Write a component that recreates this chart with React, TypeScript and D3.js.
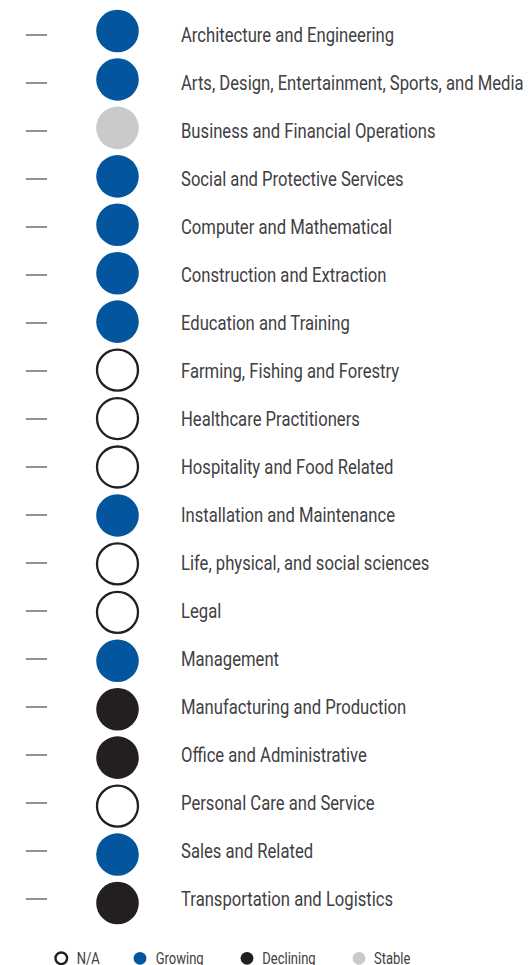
import { useEffect, useRef } from "react";
import * as d3 from "d3";

const categories = [
  "Architecture and Engineering",
  "Arts, Design, Entertainment, Sports, and Media",
  "Business and Financial Operations",
  "Social and Protective Services",
  "Computer and Mathematical",
  "Construction and Extraction",
  "Education and Training",
  "Farming, Fishing and Forestry",
  "Healthcare Practitioners",
  "Hospitality and Food Related",
  "Installation and Maintenance",
  "Life, physical, and social sciences",
  "Legal",
  "Management",
  "Manufacturing and Production",
  "Office and Administrative",
  "Personal Care and Service",
  "Sales and Related",
  "Transportation and Logistics",
];

const statuses = [
  "Growing", "Growing", "Stable", "Growing", "Growing", "Growing", "Growing",
  "N/A", "N/A", "N/A", "Growing", "N/A", "N/A", "Growing",
  "Declining", "Declining", "N/A", "Growing", "Declining",
];

const legendKeys = ["N/A", "Growing", "Declining", "Stable"];

const colors: Record<string, string> = {
  "N/A": "#ffffff",
  Growing: "#03569d",
  Declining: "#231f20",
  Stable: "#c9cacc",
};

const FONT = "Roboto, 'Liberation Sans', sans-serif";

export default function App() {
  const ref = useRef<SVGSVGElement>(null);

  useEffect(() => {
    const svg = d3.select(ref.current);
    svg.selectAll("*").remove();

    // circles and labels sit on slightly different row pitches
    const yDot = d3.scalePoint<string>().domain(categories).range([31, 903]);
    const yText = d3.scalePoint<string>().domain(categories).range([35, 899]);

    // dashes
    svg
      .append("g")
      .selectAll("line")
      .data(categories)
      .enter()
      .append("line")
      .attr("x1", 26)
      .attr("x2", 47)
      .attr("y1", (d) => yText(d)!)
      .attr("y2", (d) => yText(d)!)
      .attr("stroke", "#6d6e70")
      .attr("stroke-width", 1.5);

    // circles
    svg
      .append("g")
      .selectAll("circle")
      .data(categories)
      .enter()
      .append("circle")
      .attr("cx", 117.5)
      .attr("cy", (d) => yDot(d)!)
      .attr("r", (d, i) => (statuses[i] === "N/A" ? 20.5 : 21.3))
      .attr("fill", (d, i) => colors[statuses[i]])
      .attr("stroke", (d, i) => (statuses[i] === "N/A" ? "#231f20" : "none"))
      .attr("stroke-width", 2.3);

    // labels, squeezed horizontally to mimic a condensed face
    const labels = svg
      .append("g")
      .selectAll("g")
      .data(categories)
      .enter()
      .append("g")
      .attr("transform", (d) => `translate(181, ${yText(d)! + 7.3})`)
      .append("text")
      .attr("font-family", FONT)
      .attr("font-size", 20.5)
      .attr("fill", "#414042")
      .text((d) => d);

    const lens = labels.nodes().map((n) => (n as SVGTextElement).getComputedTextLength());
    // fit the widest label (Arts...) and the first one roughly to the reference
    const k = Math.min(220 / lens[0], 343 / lens[1]);
    labels.attr("transform", `scale(${k},1)`);

    // legend
    const legendX = [61.3, 140, 247, 359];
    const legendTextX = [76.7, 155.7, 262.3, 374];
    const legend = svg
      .append("g")
      .attr("transform", "translate(0, 958.3)")
      .selectAll("g")
      .data(legendKeys)
      .enter()
      .append("g");

    legend
      .append("circle")
      .attr("cx", (d, i) => legendX[i])
      .attr("r", (d) => (d === "N/A" ? 5.8 : 6.4))
      .attr("fill", (d) => colors[d])
      .attr("stroke", (d) => (d === "N/A" ? "#231f20" : "none"))
      .attr("stroke-width", 2.4);

    legend
      .append("g")
      .attr("transform", (d, i) => `translate(${legendTextX[i]}, 5.7)`)
      .append("text")
      .attr("font-family", FONT)
      .attr("font-size", 16)
      .attr("fill", "#414042")
      .attr("transform", `scale(${k},1)`)
      .text((d) => d);
  }, []);

  return (
    <svg
      ref={ref}
      width={528}
      height={965}
      style={{ position: "absolute", left: 0, top: 0, background: "#fff" }}
    />
  );
}
